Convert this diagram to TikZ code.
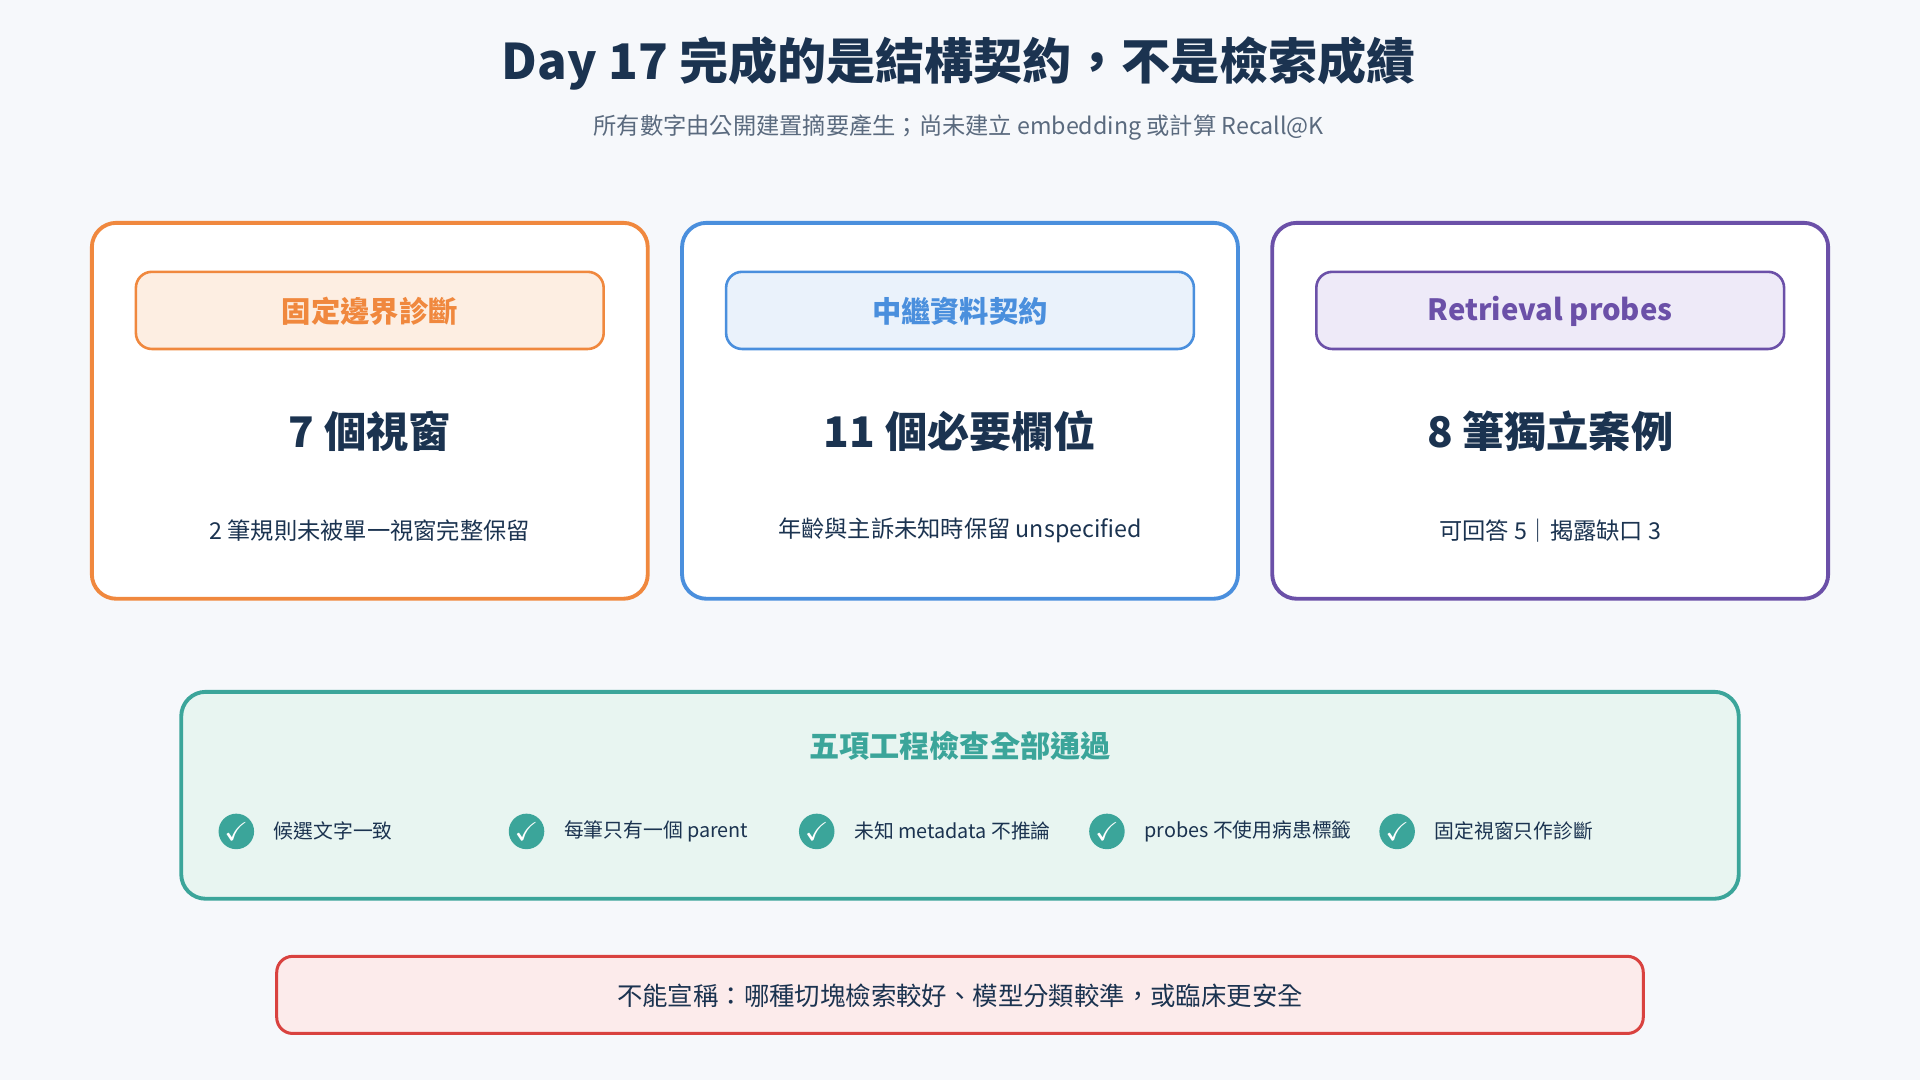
\documentclass[tikz,border=0pt]{standalone}
\usepackage{amssymb}
\usepackage{fontspec}
\setmainfont{Noto Sans CJK TC}
\usetikzlibrary{positioning}
\definecolor{navy}{HTML}{1B3350}
\definecolor{greytxt}{HTML}{5A6A7E}
\definecolor{orangeC}{HTML}{F0883E}
\definecolor{orangeL}{HTML}{FDEEE2}
\definecolor{blueC}{HTML}{4A8FDD}
\definecolor{blueL}{HTML}{EAF2FB}
\definecolor{purpleC}{HTML}{6B50A8}
\definecolor{purpleL}{HTML}{EEEAF8}
\definecolor{tealC}{HTML}{3BA59A}
\definecolor{tealL}{HTML}{E8F5F1}
\definecolor{redC}{HTML}{D9423F}
\definecolor{redL}{HTML}{FCEBEB}
\definecolor{bgC}{HTML}{F6F8FB}
\tikzset{
  card/.style = {draw=#1,line width=0.9pt,rounded corners=2mm,fill=white},
  tag/.style = {draw=#1,line width=0.6pt,rounded corners=1.3mm},
  big/.style = {font=\fontsize{9.8}{11}\selectfont\bfseries,text=navy},
  small/.style = {font=\fontsize{5.4}{6.5}\selectfont,text=navy},
  tick/.style = {circle,fill=tealC,minimum size=2.9mm,inner sep=0pt,text=white,font=\fontsize{6}{6}\selectfont\bfseries},
  item/.style = {right,font=\fontsize{4.6}{5.5}\selectfont,text=navy}
}
\begin{document}
\begin{tikzpicture}[x=0.01cm,y=-0.01cm]
  \fill[bgC] (0,0) rectangle (1568,882);
  \useasboundingbox (0,0) rectangle (1568,882);
  \node[font=\fontsize{11.4}{13}\selectfont\bfseries,text=navy] (title) at (783,52) {Day 17 完成的是結構契約，不是檢索成績};
  \node[font=\fontsize{5.4}{6.5}\selectfont,text=greytxt] (sub) at (783,104) {所有數字由公開建置摘要產生；尚未建立 embedding 或計算 Recall@K};
  % three cards
  \foreach \x/\c/\l/\tg/\bg/\sm in {75/orangeC/orangeL/固定邊界診斷/7 個視窗/2 筆規則未被單一視窗完整保留,
      557/blueC/blueL/中繼資料契約/11 個必要欄位/年齡與主訴未知時保留 unspecified,
      1039/purpleC/purpleL/Retrieval probes/8 筆獨立案例/可回答 5｜揭露缺口 3} {
    \draw[card=\c] (\x,182) rectangle ++(454,307);
    \draw[tag=\c,fill=\l] (\x+36,222) rectangle ++(382,63);
    \node[font=\fontsize{6.8}{8}\selectfont\bfseries,text=\c] at (\x+227,254) {\tg};
    \node[big] at (\x+227,352) {\bg};
    \node[small] at (\x+227,433) {\sm};
  }
  % checks panel
  \draw[card=tealC,fill=tealL] (148,565) rectangle (1420,734);
  \node[font=\fontsize{7}{8}\selectfont\bfseries,text=tealC] (checks) at (784,609) {五項工程檢查全部通過};
  \foreach \x/\t [count=\i] in {193/候選文字一致,430/每筆只有一個 parent,667/未知 metadata 不推論,904/probes 不使用病患標籤,1141/固定視窗只作診斷} {
    \node[tick] (c\i) at (\x,679) {$\checkmark$};
    \node[item] at ([xshift=0.3mm]c\i.east) {\t};
  }
  % limits
  \draw[tag=redC,fill=redL,line width=0.7pt] (226,781) rectangle (1342,844);
  \node[font=\fontsize{5.9}{7}\selectfont,text=navy] (limit) at (784,813) {不能宣稱：哪種切塊檢索較好、模型分類較準，或臨床更安全};
\end{tikzpicture}
\end{document}
